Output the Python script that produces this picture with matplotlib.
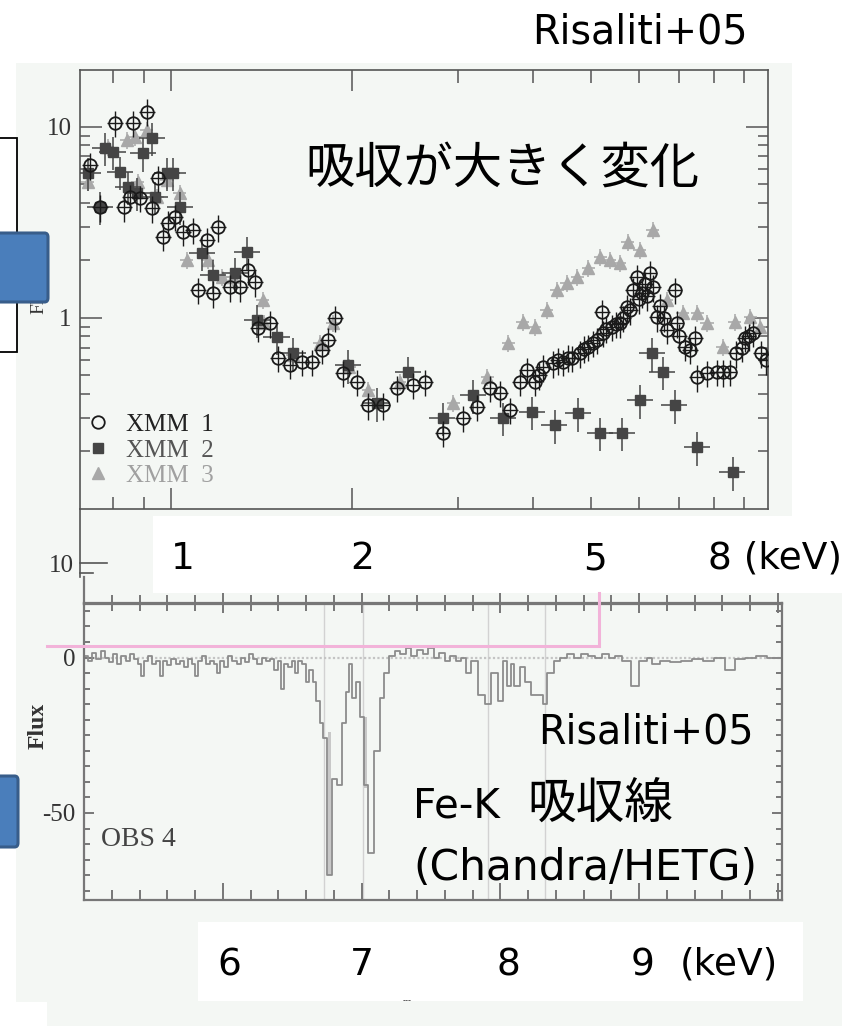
import matplotlib
matplotlib.use("Agg")
import matplotlib.pyplot as plt
from matplotlib.patches import Rectangle, FancyBboxPatch
from matplotlib.lines import Line2D
from matplotlib.ticker import FixedLocator, NullFormatter, FixedFormatter, MultipleLocator

# ---------------- data: top panel (XMM spectra, keV vs flux) ----------------
xmm1_e = [0.733, 0.762, 0.807, 0.835, 0.855, 0.865, 0.888, 0.912, 0.930, 0.951,
          0.970, 0.989, 1.015, 1.047, 1.088, 1.109, 1.148, 1.175, 1.197, 1.253,
          1.303, 1.343, 1.379, 1.395, 1.461, 1.507, 1.578, 1.651, 1.716, 1.782,
          1.825, 1.874, 1.932, 2.04, 2.13, 2.25, 2.38, 2.53, 2.65, 2.83,
          3.06, 3.23, 3.39, 3.53, 3.67, 3.81, 3.91, 4.03, 4.10, 4.16,
          4.32, 4.40, 4.49, 4.57, 4.65, 4.79, 4.87, 4.95, 5.03, 5.11,
          5.21, 5.23, 5.30, 5.42, 5.50, 5.58, 5.65, 5.74, 5.80, 5.87,
          5.96, 6.00, 6.08, 6.15, 6.20, 6.26, 6.35, 6.44, 6.50, 6.60,
          6.68, 6.89, 6.94, 7.00, 7.16, 7.30, 7.45, 7.51, 7.80, 8.10,
          8.30, 8.50, 8.70, 8.90, 9.03, 9.15, 9.30, 9.60, 9.76]
xmm1_f = [6.3, 3.8, 10.5, 3.8, 4.3, 10.5, 4.25, 12.0, 3.76, 5.4,
          2.66, 3.14, 3.38, 2.82, 2.89, 1.40, 2.56, 1.35, 2.99, 1.45,
          1.45, 1.78, 1.54, 0.886, 0.94, 0.617, 0.567, 0.588, 0.588, 0.68,
          0.767, 1.0, 0.515, 0.462, 0.35, 0.35, 0.43, 0.446, 0.462, 0.25,
          0.30, 0.342, 0.43, 0.405, 0.33, 0.462, 0.534, 0.462, 0.50, 0.553,
          0.58, 0.60, 0.588, 0.62, 0.617, 0.655, 0.69, 0.705, 0.74, 0.767,
          1.075, 0.835, 0.88, 0.897, 0.93, 0.94, 1.0, 1.14, 1.10, 1.40,
          1.64, 1.25, 1.35, 1.50, 1.30, 1.72, 1.45, 1.01, 1.15, 1.0,
          0.865, 1.40, 0.94, 0.80, 0.705, 0.68, 0.786, 0.49, 0.515, 0.522,
          0.52, 0.522, 0.655, 0.70, 0.786, 0.80, 0.835, 0.655, 0.60]

xmm2_e = [0.727, 0.762, 0.777, 0.800, 0.823, 0.848, 0.878, 0.898, 0.930, 0.941,
          0.985, 1.008, 1.035, 1.126, 1.175, 1.278, 1.338, 1.390, 1.500, 1.596,
          1.970, 2.20, 2.48, 2.83, 3.18, 3.57, 3.99, 4.35, 4.76, 5.18,
          5.63, 6.03, 6.32, 6.58, 6.89, 7.51, 8.60]
xmm2_f = [5.74, 3.81, 7.76, 7.4, 5.81, 4.85, 4.51, 7.3, 8.77, 4.3,
          5.74, 5.74, 3.81, 2.19, 1.68, 1.72, 2.21, 0.976, 0.795, 0.655,
          0.567, 0.358, 0.522, 0.30, 0.395, 0.30, 0.322, 0.275, 0.318, 0.25,
          0.25, 0.372, 0.655, 0.522, 0.35, 0.211, 0.156]

xmm3_e = [0.727, 0.785, 0.845, 0.871, 0.881, 0.912, 0.948, 0.985, 1.035, 1.063,
          1.152, 1.216, 1.268, 1.422, 1.430, 1.596, 1.77, 1.86, 1.98, 2.13,
          2.40, 2.95, 3.36, 3.64, 3.85, 4.03, 4.22, 4.39, 4.56, 4.74,
          4.95, 5.18, 5.37, 5.58, 5.76, 6.03, 6.34, 6.68, 7.11, 7.51,
          7.80, 8.28, 8.68, 9.20, 9.54]
xmm3_f = [5.15, 7.86, 8.54, 8.87, 5.15, 9.64, 4.30, 5.28, 4.51, 2.01,
          2.01, 1.64, 1.64, 1.24, 0.94, 0.64, 0.74, 0.94, 0.553, 0.42,
          0.462, 0.358, 0.49, 0.74, 0.953, 0.897, 1.10, 1.40, 1.52, 1.64,
          1.83, 2.09, 2.01, 1.94, 2.5, 2.27, 2.89, 1.24, 1.06, 1.06,
          0.94, 0.705, 0.953, 1.01, 0.897]

legend_labels = ["XMM  1", "XMM  2", "XMM  3"]
top_ytick_vals = [1, 10]
top_ytick_labels = ["1", "10"]

# ---------------- data: bottom panel (Chandra HETG residual flux) ----------------
hetg_e = [5.00, 5.03, 5.06, 5.09, 5.12, 5.15, 5.18, 5.21, 5.24, 5.27,
          5.30, 5.33, 5.36, 5.39, 5.41, 5.43, 5.46, 5.49, 5.52, 5.55,
          5.57, 5.60, 5.63, 5.66, 5.69, 5.72, 5.75, 5.78, 5.80, 5.82,
          5.85, 5.88, 5.91, 5.94, 5.96, 5.98, 6.01, 6.04, 6.07, 6.10,
          6.13, 6.16, 6.19, 6.22, 6.25, 6.28, 6.31, 6.34, 6.37, 6.40,
          6.42, 6.44, 6.47, 6.50, 6.52, 6.54, 6.57, 6.60, 6.62, 6.65,
          6.67, 6.70, 6.72, 6.75, 6.79, 6.82, 6.86, 6.89, 6.91, 6.93,
          6.96, 6.99, 7.02, 7.05, 7.09, 7.13, 7.16, 7.20, 7.24, 7.28,
          7.32, 7.36, 7.40, 7.44, 7.48, 7.52, 7.56, 7.60, 7.64, 7.68,
          7.72, 7.75, 7.79, 7.84, 7.89, 7.93, 7.98, 8.02, 8.05, 8.08,
          8.10, 8.14, 8.18, 8.22, 8.27, 8.31, 8.34, 8.39, 8.43, 8.48,
          8.53, 8.58, 8.63, 8.68, 8.73, 8.78, 8.83, 8.88, 8.94, 9.00,
          9.06, 9.09, 9.15, 9.22, 9.30, 9.38, 9.46, 9.54, 9.62, 9.69,
          9.76, 9.84, 9.92, 10.03]
hetg_f = [0.5, -1, 1.5, -0.5, 2, 0, -1.5, 1, -2, 0.5,
          -1, 1, -0.5, -2, -6, -1, 0.5, -2, -1, -6,
          -1, -2.5, -0.5, -2, -1, -3, -0.5, -2, -6, -1,
          0.5, -2, -1, -2, -5, -1, -3, 0.5, -1, -2,
          0, -1.5, 1, -0.5, -2, 0, -1, -0.5, -4, -1,
          -10, -2, -3, -1, -5, -1, -2, -8, -4, -8,
          -14, -21, -26, -70, -39, -41, -21, -11, -2, -13,
          -8, -19, -41, -63, -30, -13, -5, 0.5, 2, 1,
          3, 0.5, 2.5, 1, 3, 0, 1.5, -1, 0.5, -1,
          0, -5, -1, -12, -15, -5, -14, -1, -9, -2,
          -9, -3, -8, -12, -12, -15, -5, -1, 0, 1,
          0, 1, 0.5, 0, 1, 0, 0.5, -1, -9, -1,
          0, -2, -1, -1.5, -1, -0.5, -1, 0, -4, -0.5,
          0, 0.5, 0, 0]
# shaded uncertainty columns on the two deepest Fe-K lines
band_e = [6.755, 6.78, 7.015, 7.04]
band_lo = [-70, -70, -42, -42]
band_hi = [-24, -24, -19, -19]
line_marks_e = [6.73, 7.01, 7.91, 8.32]
bottom_ytick_vals = [0, -50]
bottom_ytick_labels = ["0", "-50"]

top_axis_texts = ["1", "2", "5", "8 (keV)"]
bottom_axis_texts = ["6", "7", "8", "9", "(keV)"]

# ---------------- figure ----------------
W, H = 854, 1026
fig = plt.figure(figsize=(W / 100, H / 100), dpi=100)
fig.patch.set_facecolor("white")

def fx(x):
    return x / W

def fy(y):
    return 1 - y / H

def frect(x0, y0, x1, y1, **kw):
    r = Rectangle((fx(x0), fy(y1)), (x1 - x0) / W, (y1 - y0) / H,
                  transform=fig.transFigure, **kw)
    fig.add_artist(r)
    return r

def fline(xs, ys, **kw):
    ln = Line2D([fx(v) for v in xs], [fy(v) for v in ys], transform=fig.transFigure, **kw)
    fig.add_artist(ln)
    return ln

BG = "#f4f7f4"
SERIF = ["Liberation Serif", "DejaVu Serif"]
SANS = ["DejaVu Sans", "Noto Sans CJK JP"]
CJK = ["Noto Sans CJK JP", "DejaVu Sans"]

# scanned-image backgrounds
frect(16, 63, 792, 1002, facecolor=BG, edgecolor="none", zorder=-5)
frect(47, 593, 842, 1026, facecolor=BG, edgecolor="none", zorder=-5)

# ---------------- top axes ----------------
ax1 = fig.add_axes([fx(80), fy(509), (768 - 80) / W, (509 - 70) / H])
ax1.set_facecolor("none")
ax1.set_xscale("log")
ax1.set_yscale("log")
ax1.set_xlim(0.7055, 9.85)
ax1.set_ylim(0.1, 19.85)

c1, c2, c3 = "#1a1a1a", "#454545", "#a8a8a8"
ERR1_X, ERR1_Y = 0.03, 0.16
ERR2_X, ERR2_Y = 0.05, 0.20
ERR3_X, ERR3_Y = 0.025, 0.10

def rel_err(vals, frac):
    return [v * frac for v in vals]

ax1.errorbar(xmm3_e, xmm3_f, xerr=rel_err(xmm3_e, ERR3_X), yerr=rel_err(xmm3_f, ERR3_Y),
             fmt="none", ecolor=c3, elinewidth=1.1, zorder=2)
ax1.plot(xmm3_e, xmm3_f, linestyle="none", marker="^", markersize=8,
         color=c3, markeredgecolor=c3, label=legend_labels[2], zorder=2)
ax1.errorbar(xmm2_e, xmm2_f, xerr=rel_err(xmm2_e, ERR2_X), yerr=rel_err(xmm2_f, ERR2_Y),
             fmt="none", ecolor=c2, elinewidth=1.1, zorder=3)
ax1.plot(xmm2_e, xmm2_f, linestyle="none", marker="s", markersize=6.5,
         color=c2, markeredgecolor=c2, label=legend_labels[1], zorder=3)
ax1.errorbar(xmm1_e, xmm1_f, xerr=rel_err(xmm1_e, ERR1_X), yerr=rel_err(xmm1_f, ERR1_Y),
             fmt="none", ecolor=c1, elinewidth=1.0, zorder=4)
ax1.plot(xmm1_e, xmm1_f, linestyle="none", marker="o", markersize=9,
         markerfacecolor="none", markeredgecolor=c1, markeredgewidth=1.3,
         label=legend_labels[0], zorder=4)

h, l = ax1.get_legend_handles_labels()
order = [2, 1, 0]
leg = ax1.legend([h[i] for i in order], [l[i] for i in order], loc="lower left",
                 bbox_to_anchor=(0.012, 0.05), frameon=False, borderpad=0,
                 borderaxespad=0, handlelength=0.8, handletextpad=0.7,
                 labelspacing=0.12, prop={"family": SERIF, "size": 18},
                 labelcolor=["#222222", "#555555", "#a0a0a0"])

ax1.xaxis.set_major_locator(FixedLocator([1, 2]))
ax1.xaxis.set_minor_locator(FixedLocator([0.8, 0.9, 3, 4, 5, 6, 7, 8, 9]))
ax1.xaxis.set_major_formatter(NullFormatter())
ax1.xaxis.set_minor_formatter(NullFormatter())
ax1.yaxis.set_major_locator(FixedLocator(top_ytick_vals))
ax1.yaxis.set_major_formatter(FixedFormatter(top_ytick_labels))
ax1.yaxis.set_minor_locator(FixedLocator([0.2, 0.3, 0.4, 0.5, 0.6, 0.7, 0.8, 0.9,
                                          2, 3, 4, 5, 6, 7, 8, 9]))
ax1.yaxis.set_minor_formatter(NullFormatter())
ax1.tick_params(axis="x", which="both", direction="in", top=True, bottom=True,
                color="#555555", width=1.1)
ax1.tick_params(axis="x", which="major", length=15)
ax1.tick_params(axis="x", which="minor", length=9)
ax1.tick_params(axis="y", which="both", direction="in", left=True, right=True,
                color="#555555", width=1.1, labelsize=18, pad=6, labelcolor="#333333")
ax1.tick_params(axis="y", which="major", length=16)
ax1.tick_params(axis="y", which="minor", length=7)
for lab in ax1.get_yticklabels():
    lab.set_family(SERIF)
for sp in ax1.spines.values():
    sp.set_color("#555555")
    sp.set_linewidth(1.2)

# continuation of the scanned top figure below the frame
fline([80, 80], [509, 577], color="#555555", lw=1.2, zorder=1)
fline([80, 107], [563, 563], color="#555555", lw=1.2, zorder=1)
fline([80, 93], [573, 573], color="#555555", lw=1.2, zorder=1)
fig.text(fx(61), fy(566), "10", family=SERIF, fontsize=18, color="#333333",
         ha="center", va="center", zorder=1)
fig.text(fx(39), fy(314), "Flux", rotation=90, family=SERIF, fontsize=14,
         color="#333333", ha="center", va="bottom", zorder=1)

# ---------------- bottom axes ----------------
ax2 = fig.add_axes([fx(84), fy(900), (782 - 84) / W, (900 - 603.5) / H])
ax2.set_facecolor("none")
ax2.set_xlim(5.0, 10.03)
ax2.set_ylim(-78.0, 17.4)
for e in line_marks_e:
    ax2.axvline(e, color="#d2d2d2", lw=1.0, zorder=1)
ax2.axhline(0, color="#c4c4c4", lw=1.6, ls=(0, (1, 1)), zorder=1)
for i in range(0, len(band_e), 2):
    ax2.fill_between(band_e[i:i + 2], band_lo[i:i + 2], band_hi[i:i + 2],
                     color="#c8c8c8", lw=0, zorder=1.5)
ax2.plot(hetg_e, hetg_f, drawstyle="steps-post", color="#8c8c8c", lw=1.3, zorder=2)
ax2.text(0.025, 0.205, "OBS 4", transform=ax2.transAxes, family=SERIF, fontsize=20,
         color="#444444", ha="left", va="center")

ax2.xaxis.set_major_locator(MultipleLocator(1))
ax2.xaxis.set_minor_locator(MultipleLocator(0.2))
ax2.xaxis.set_major_formatter(NullFormatter())
ax2.tick_params(axis="x", which="both", direction="in", top=False, bottom=True,
                color="#777777", width=1.4)
ax2.tick_params(axis="x", which="major", length=12)
ax2.tick_params(axis="x", which="minor", length=7)
ax2.yaxis.set_major_locator(FixedLocator(bottom_ytick_vals))
ax2.yaxis.set_major_formatter(FixedFormatter(bottom_ytick_labels))
ax2.yaxis.set_minor_locator(MultipleLocator(5))
ax2.tick_params(axis="y", which="both", direction="in", left=True, right=True,
                color="#777777", width=1.4, labelsize=18, pad=6, labelcolor="#333333")
ax2.tick_params(axis="y", which="major", length=7)
ax2.tick_params(axis="y", which="minor", length=4)
for lab in ax2.get_yticklabels():
    lab.set_family(SERIF)
for sp in ax2.spines.values():
    sp.set_color("#777777")
    sp.set_linewidth(1.6)

sec = ax2.secondary_xaxis("top")
sec.xaxis.set_major_locator(MultipleLocator(1))
sec.xaxis.set_minor_locator(MultipleLocator(0.2))
sec.xaxis.set_major_formatter(NullFormatter())
sec.tick_params(axis="x", which="both", direction="inout", color="#777777", width=1.4)
sec.tick_params(axis="x", which="major", length=15)
sec.tick_params(axis="x", which="minor", length=11)
sec.spines["top"].set_color("#777777")
sec.spines["top"].set_linewidth(1.6)

fline([84, 84], [577, 604], color="#777777", lw=1.6, zorder=1)
fig.text(fx(38), fy(726), "Flux", rotation=90, family=SERIF, fontsize=17,
         fontweight="bold", color="#333333", ha="center", va="center", zorder=1)

# ---------------- slide overlays ----------------
frect(153, 516, 856, 593, facecolor="white", edgecolor="none", zorder=3)
frect(198, 922, 803, 1001, facecolor="white", edgecolor="none", zorder=3)

fline([47, 599, 599], [646, 646, 593], color="#f2b3d9", lw=2.2, zorder=4,
      solid_joinstyle="miter")

frect(-2, 138, 17, 352, facecolor="white", edgecolor="black", lw=1.3, zorder=5)
for (x0, y0, x1, y1) in [(-6, 233, 48, 302), (-6, 776, 18, 847)]:
    fb = FancyBboxPatch((fx(x0), fy(y1)), (x1 - x0) / W, (y1 - y0) / H,
                        boxstyle="round,pad=0,rounding_size=0.004",
                        transform=fig.transFigure, facecolor="#4a7ebb",
                        edgecolor="#385d8a", lw=2.2, zorder=6)
    fig.add_artist(fb)

TXT = dict(color="black", zorder=7)
fig.text(fx(640), fy(43), "Risaliti+05", family=SANS, fontsize=28.5,
         ha="center", va="baseline", **TXT)
fig.text(fx(502), fy(169), "吸収が大きく変化", family=CJK, fontsize=35.5,
         ha="center", va="center", **TXT)

tick_x_top = [183, 362, 595, 708]
tick_ha_top = ["center", "center", "center", "left"]
for s, x, ha in zip(top_axis_texts, tick_x_top, tick_ha_top):
    fig.text(fx(x), fy(569), s, family=SANS, fontsize=27, ha=ha, va="baseline", **TXT)

tick_x_bot = [229, 362, 508, 643, 680]
tick_ha_bot = ["center", "center", "center", "center", "left"]
for s, x, ha in zip(bottom_axis_texts, tick_x_bot, tick_ha_bot):
    fig.text(fx(x), fy(975), s, family=SANS, fontsize=27, ha=ha, va="baseline", **TXT)

fig.text(fx(646), fy(743), "Risaliti+05", family=SANS, fontsize=28.5,
         ha="center", va="baseline", **TXT)
fig.text(fx(413), fy(818), "Fe-K", family=SANS, fontsize=29,
         ha="left", va="baseline", **TXT)
fig.text(fx(600), fy(818), "吸収線", family=CJK, fontsize=35,
         ha="center", va="baseline", **TXT)
fig.text(fx(413), fy(880), "(Chandra/HETG)", family=SANS, fontsize=30.5,
         ha="left", va="baseline", **TXT)
fig.text(fx(407), fy(1003), "---", family=SANS, fontsize=6, color="#333333",
         ha="center", va="baseline", zorder=7)

fig.savefig("out.png", dpi=100, facecolor="white")
